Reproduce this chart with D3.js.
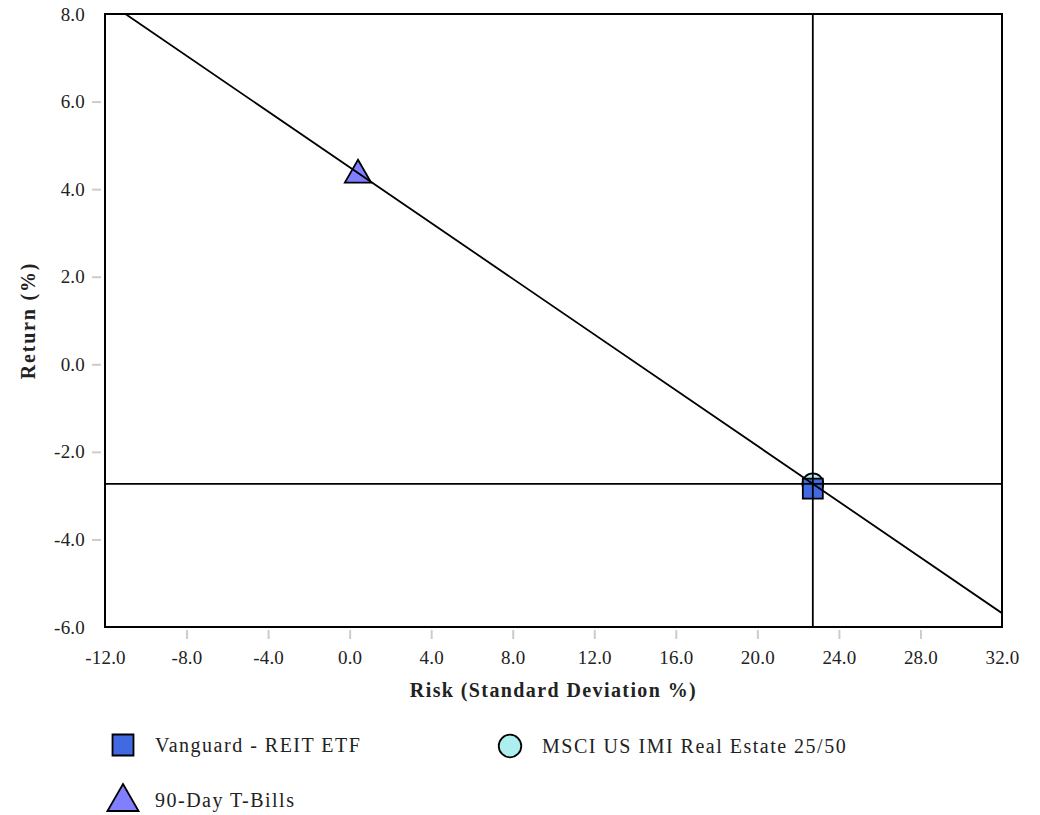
<!DOCTYPE html>
<html><head><meta charset="utf-8">
<script src="https://cdn.jsdelivr.net/npm/d3@7"></script>
<style>body{margin:0;background:#fff}</style>
</head><body>
<svg id="chart" width="1040" height="815"></svg>
<script>
const seriesNames = ["Vanguard - REIT ETF", "MSCI US IMI Real Estate 25/50", "90-Day T-Bills"];
const riskValues = [22.72, 22.72, 0.41];
const returnValues = [-2.84, -2.73, 4.37];
const markerShapes = ["square", "circle", "triangle"];
const markerColors = ["#4169E1", "#AFEEEE", "#7F7FFF"];
const xTicks = [-12, -8, -4, 0, 4, 8, 12, 16, 20, 24, 28, 32];
const yTicks = [-6, -4, -2, 0, 2, 4, 6, 8];

const font = "'Liberation Serif', 'Times New Roman', serif";
const fmt = d => d.toFixed(1);
const svg = d3.select("#chart");
const L = 105, R = 1002, T = 14, B = 627;
const x = d3.scaleLinear().domain([-12, 32]).range([L, R]);
const y = d3.scaleLinear().domain([-6, 8]).range([B, T]);

// axes ticks
const xa = svg.append("g").attr("transform", `translate(0,${B})`)
  .call(d3.axisBottom(x).tickValues(xTicks).tickFormat(fmt).tickSize(0).tickPadding(24));
xa.select(".domain").remove();
xa.selectAll("text").attr("font-family", font).attr("font-size", 19).attr("letter-spacing", 0.2).attr("fill", "#222");
xa.selectAll(".tick").filter(d => d !== xTicks[0] && d !== xTicks[xTicks.length-1])
  .append("line").attr("y1", 3).attr("y2", 12).attr("stroke", "#ccc").attr("stroke-width", 2);

const ya = svg.append("g").attr("transform", `translate(${L},0)`)
  .call(d3.axisLeft(y).tickValues(yTicks).tickFormat(fmt).tickSize(0).tickPadding(20));
ya.select(".domain").remove();
ya.selectAll("text").attr("font-family", font).attr("font-size", 19).attr("letter-spacing", 0.2).attr("fill", "#222");
ya.selectAll(".tick").filter(d => d !== yTicks[0] && d !== yTicks[yTicks.length-1])
  .append("line").attr("x1", -4).attr("x2", -13).attr("stroke", "#ccc").attr("stroke-width", 2);

// axis titles
svg.append("text").attr("x", (L+R)/2).attr("y", 697).attr("text-anchor", "middle")
  .attr("font-family", font).attr("font-weight", "bold").attr("font-size", 20).attr("letter-spacing", 1.4).attr("fill", "#222")
  .text("Risk (Standard Deviation %)");
svg.append("text").attr("transform", `translate(35,${(T+B)/2}) rotate(-90)`).attr("text-anchor", "middle")
  .attr("font-family", font).attr("font-weight", "bold").attr("font-size", 20).attr("letter-spacing", 1.8).attr("fill", "#222")
  .text("Return (%)");

const symbolFor = s => s === "square" ? d3.symbolSquare : s === "circle" ? d3.symbolCircle : d3.symbolTriangle;
const sizeFor = s => s === "square" ? 400 : s === "circle" ? 340 : 300;

svg.append("clipPath").attr("id", "clip").append("rect").attr("x", L).attr("y", T).attr("width", R-L).attr("height", B-T);
const plot = svg.append("g").attr("clip-path", "url(#clip)");

// markers: benchmark circle first, then square, then triangle
const order = [1, 0, 2];
order.forEach(i => {
  plot.append("path")
    .attr("d", d3.symbol().type(symbolFor(markerShapes[i])).size(sizeFor(markerShapes[i]))())
    .attr("transform", `translate(${x(riskValues[i])},${y(returnValues[i]) + (markerShapes[i]==="triangle"?2:0)})`)
    .attr("fill", markerColors[i]).attr("stroke", "#000").attr("stroke-width", 1.8);
});

// capital market line through T-Bills and benchmark
const rf = 2, bm = 1;
const slope = (returnValues[bm] - returnValues[rf]) / (riskValues[bm] - riskValues[rf]);
const lineFn = v => returnValues[rf] + slope * (v - riskValues[rf]);
const xd = x.domain();
plot.append("line").attr("x1", x(xd[0])).attr("y1", y(lineFn(xd[0])))
  .attr("x2", x(xd[1])).attr("y2", y(lineFn(xd[1])))
  .attr("stroke", "#000").attr("stroke-width", 1.8);
// benchmark crosshair
plot.append("line").attr("x1", x(riskValues[bm])).attr("x2", x(riskValues[bm])).attr("y1", T).attr("y2", B)
  .attr("stroke", "#000").attr("stroke-width", 1.8);
plot.append("line").attr("x1", L).attr("x2", R).attr("y1", y(returnValues[bm])).attr("y2", y(returnValues[bm]))
  .attr("stroke", "#000").attr("stroke-width", 1.8);

svg.append("rect").attr("x", L).attr("y", T).attr("width", R-L).attr("height", B-T)
  .attr("fill", "none").attr("stroke", "#000").attr("stroke-width", 2);

// legend
const legendPos = [[123, 745], [510, 746], [123, 800]];
seriesNames.forEach((name, i) => {
  const [lx, ly] = legendPos[i];
  svg.append("path")
    .attr("d", d3.symbol().type(symbolFor(markerShapes[i])).size(markerShapes[i]==="triangle"?420:(markerShapes[i]==="circle"?400:440))())
    .attr("transform", `translate(${lx},${ly + (markerShapes[i]==="triangle"?2:0)})`)
    .attr("fill", markerColors[i]).attr("stroke", "#000").attr("stroke-width", 1.8);
  svg.append("text").attr("x", lx + 32).attr("y", ly).attr("dy", "0.35em")
    .attr("font-family", font).attr("font-size", 20).attr("letter-spacing", 1.5).attr("fill", "#222").text(name);
});
</script>
</body></html>
